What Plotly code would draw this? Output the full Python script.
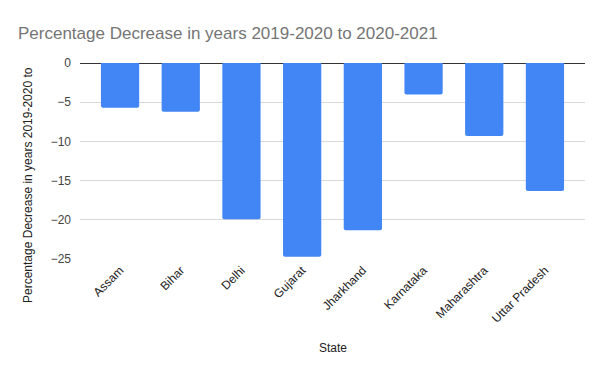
import plotly.graph_objects as go

states = ["Assam", "Bihar", "Delhi", "Gujarat", "Jharkhand", "Karnataka", "Maharashtra", "Uttar Pradesh"]
pct_decrease = [-5.7, -6.2, -19.9, -24.7, -21.3, -4.0, -9.3, -16.3]
y_ticks = [0, -5, -10, -15, -20, -25]

fig = go.Figure(go.Bar(
    x=states, y=pct_decrease,
    marker=dict(color="#4285f4", cornerradius=2, line=dict(width=0)),
))

W, H = 606, 376
L, R, T, B = 80, 21, 63, 116
PH = H - T - B
fig.update_layout(
    width=W, height=H,
    margin=dict(l=L, r=R, t=T, b=B),
    paper_bgcolor="white", plot_bgcolor="white",
    font=dict(family="Liberation Sans, Arial, sans-serif", color="#444444", size=12),
    bargap=0.37,
    showlegend=False,
    title=dict(text="Percentage Decrease in years 2019-2020 to 2020-2021",
               x=18 / W, xanchor="left", y=1 - 33 / H, yanchor="middle",
               font=dict(size=17, color="#757575")),
    xaxis=dict(range=[-0.66, 7.66], tickangle=-45, showgrid=False, showline=False,
               ticks="", tickfont=dict(size=12, color="#222222")),
    yaxis=dict(range=[-25.1, 0], tickvals=y_ticks, showgrid=True, gridcolor="#d9d9d9",
               zeroline=True, zerolinecolor="#333333", zerolinewidth=1,
               tickfont=dict(size=12, color="#444444"), ticks="", ticklabelstandoff=8),
    annotations=[
        dict(text="State", x=0.5, xref="paper", y=(H - B - 348) / PH, yref="paper",
             yanchor="middle", showarrow=False, font=dict(size=12, color="#222222")),
        dict(text="Percentage Decrease in years 2019-2020 to", textangle=-90,
             xref="paper", yref="paper", x=-(L - 28) / (W - L - R), y=(H - B - 185) / PH,
             showarrow=False, xanchor="center", yanchor="middle",
             font=dict(size=12, color="#222222")),
    ],
)
fig.write_html("out.html", post_script="document.body.style.margin='0';",
               config={"displayModeBar": False})
